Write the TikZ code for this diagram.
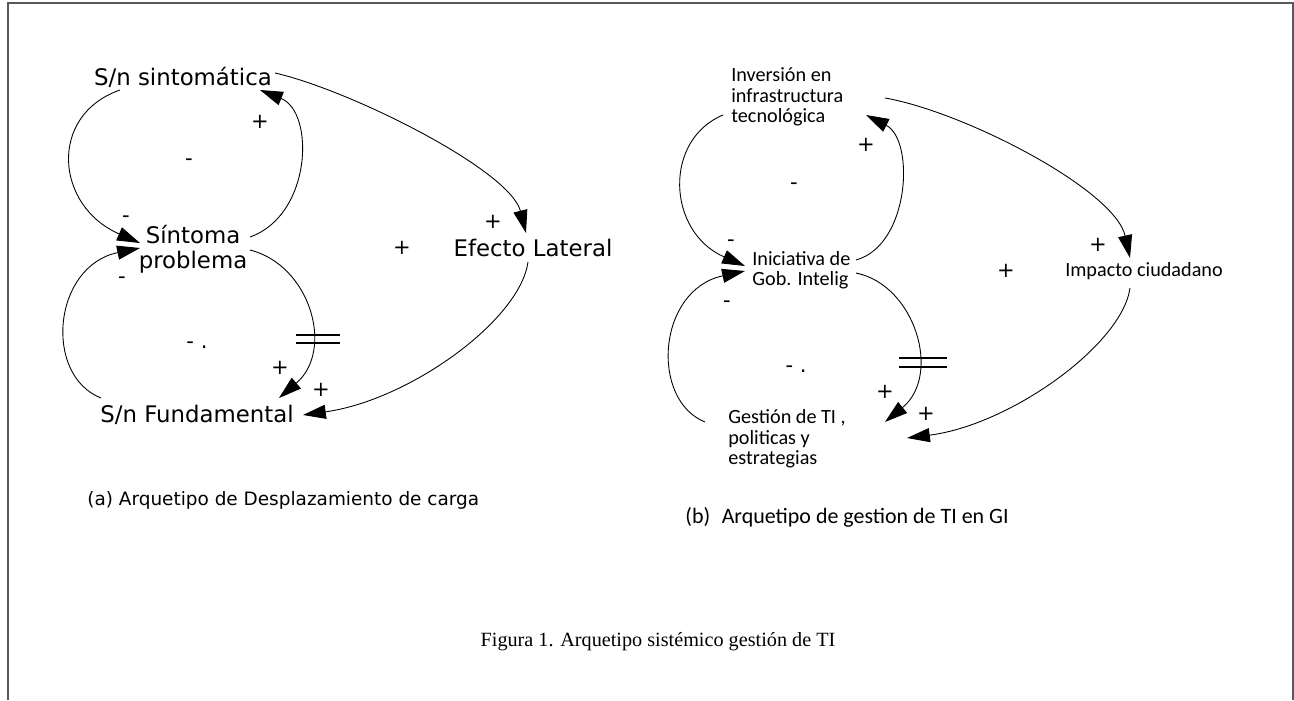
\documentclass[tikz,border=0pt]{standalone}
\usepackage{fontspec}
\usepackage{tikz}
\usetikzlibrary{arrows.meta, calc}
\newfontfamily\vensimfont{DejaVu Sans}
\newfontfamily\wordfont{Carlito}
\newfontfamily\figcapfont{Liberation Serif}
\tikzset{
  >={Triangle[length=13pt,width=8pt]},
  var/.style={font=\vensimfont\fontsize{13}{14.2}\selectfont, inner sep=0pt, align=center},
  varb/.style={font=\wordfont\fontsize{11.5}{11.6}\selectfont, inner sep=0pt, align=left, anchor=west},
  sign/.style={font=\vensimfont\fontsize{12}{12}\selectfont, inner sep=0pt},
  link/.style={->, line width=0.5pt},
  delay/.style={line width=0.6pt},
  frame/.style={line width=0.85pt, gray!70!black},
}
\begin{document}
\begin{tikzpicture}[x=0.02cm, y=-0.02cm]
		\useasboundingbox (0,0) rectangle (1294,700);
		\draw[frame] (8,700) -- (8,3) -- (1293,3) -- (1293,700);

		% (a) variables
		\node[var] (sint) at (183,77) {S/n sintomática};
		\node[var] (sinto) at (193,249) {Síntoma\\problema};
		\node[var] (efecto) at (533,248) {Efecto Lateral};
		\node[var] (fund) at (197,415) {S/n Fundamental};

		% (a) links
		\draw[link] ($(sint)+(-63,13)$) .. controls +(-72,25) and +(-85,-37) .. ($(sinto)+(-53,-6)$);
		\draw[link] ($(sinto)+(57,-12)$) .. controls +(62,-22) and +(55,22) .. ($(sint)+(77,13)$);
		\draw[link] ($(sint)+(92,-4)$) .. controls +(75,17) and +(-16,-63) .. ($(efecto)+(-7,-15)$);
		\draw[link] ($(efecto)+(-5,14)$) .. controls +(-8,58) and +(107,-15) .. ($(fund)+(106,0)$);
		\draw[link] ($(sinto)+(57,1)$) .. controls +(60,15) and +(56,-48) .. ($(fund)+(82,-17)$);
		\draw[link] ($(fund)+(-96,-17)$) .. controls +(-58,-23) and +(-87,18) .. ($(sinto)+(-53,-1)$);
		\draw[delay] (296,335) -- (340,335) (296,343) -- (340,343);

		% (a) polarities
		\node[sign] (sa1) at (126,219) {-};
		\node[sign] (sa2) at (260,122) {+};
		\node[sign] (sa3) at (189,162) {-};
		\node[sign] (sa4) at (493,222) {+};
		\node[sign] (sa5) at (402,248) {+};
		\node[sign] (sa6) at (321,390) {+};
		\node[sign] (sa7) at (280,368) {+};
		\node[sign] (sa8) at (122,280) {-};
		\node[sign] (sa9) at (197,345) {- .};

		% (b) variables
		\node[varb] (inv) at (731,97) {Inversión en\\infrastructura\\tecnológica};
		\node[varb] (inic) at (752,270) {Iniciativa de\\Gob. Intelig};
		\node[varb, anchor=center] (impacto) at (1144,271) {Impacto ciudadano};
		\node[varb] (gest) at (728,439) {Gestión de TI ,\\politicas y\\estrategias};

		% (b) links
		\draw[link] ($(inv.west)+(-8,18)$) .. controls +(-60,25) and +(-78,-34) .. ($(inic.west)+(-7,-4)$);
		\draw[link] ($(inic.west)+(104,-10)$) .. controls +(54,-15) and +(49,25) .. ($(inv.west)+(135,18)$);
		\draw[link] ($(inv.west)+(154,1)$) .. controls +(80,14) and +(-15,-68) .. ($(impacto)+(-14,-13)$);
		\draw[link] ($(impacto)+(-14,17)$) .. controls +(-8,57) and +(103,-13) .. ($(gest.west)+(179,-1)$);
		\draw[link] ($(inic.west)+(104,3)$) .. controls +(59,12) and +(57,-47) .. ($(gest.west)+(157,-17)$);
		\draw[link] ($(gest.west)+(-23,-17)$) .. controls +(-55,-22) and +(-88,19) .. ($(inic.west)+(-7,1)$);
		\draw[delay] (899,358) -- (947,358) (899,367) -- (947,367);

		% (b) polarities
		\node[sign] (sb1) at (731,243) {-};
		\node[sign] (sb2) at (866,145) {+};
		\node[sign] (sb3) at (794,186) {-};
		\node[sign] (sb4) at (1098,245) {+};
		\node[sign] (sb5) at (1006,271) {+};
		\node[sign] (sb6) at (926,414) {+};
		\node[sign] (sb7) at (885,392) {+};
		\node[sign] (sb8) at (727,304) {-};
		\node[sign] (sb9) at (796,369) {- .};

		% captions
		\node[anchor=west, inner sep=0pt, font=\vensimfont\fontsize{10.5}{12}\selectfont] (capa) at (87,500) {(a) Arquetipo de Desplazamiento de carga};
		\node[anchor=west, inner sep=0pt, font=\wordfont\fontsize{12.5}{14}\selectfont] (capb) at (685,517) {(b)\hspace{0.3em} Arquetipo de gestion de TI en GI};
		\node[inner sep=0pt, font=\figcapfont\fontsize{11.5}{13}\selectfont] (fig) at (658,642) {Figura 1. Arquetipo sistémico gestión de TI};
	\end{tikzpicture}
\end{document}
